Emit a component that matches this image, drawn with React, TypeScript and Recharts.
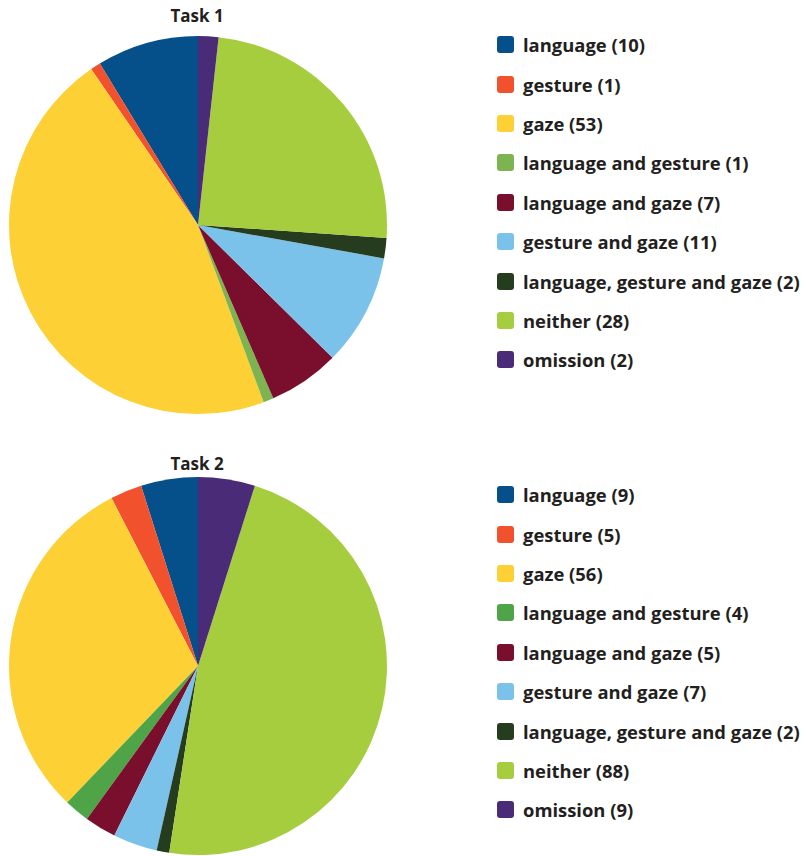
import React from 'react';
import { PieChart, Pie, Cell } from 'recharts';

const categories = [
  'language',
  'gesture',
  'gaze',
  'language and gesture',
  'language and gaze',
  'gesture and gaze',
  'language, gesture and gaze',
  'neither',
  'omission',
];

const task1Values = [10, 1, 53, 1, 7, 11, 2, 28, 2];
const task2Values = [9, 5, 56, 4, 5, 7, 2, 88, 9];

const task1Colors = ['#054f8a', '#f1522d', '#fdd136', '#7db44f', '#7a0e2d', '#7bc2ea', '#253c1e', '#a6cd3d', '#4a2b77'];
const task2Colors = ['#054f8a', '#f1522d', '#fdd136', '#4fa447', '#7a0e2d', '#7bc2ea', '#253c1e', '#a6cd3d', '#4a2b77'];

const FONT = '"Open Sans", "Noto Sans", sans-serif';

type Row = { name: string; value: number };

const toRows = (values: number[]): Row[] => categories.map((name, i) => ({ name, value: values[i] }));

const LegendBlock: React.FC<{ rows: Row[]; colors: string[]; top: number }> = ({ rows, colors, top }) => (
  <div style={{ position: 'absolute', left: 497, top }}>
    {rows.map((r, i) => (
      <div key={r.name} style={{ display: 'flex', alignItems: 'center', height: 39.4 }}>
        <span
          style={{
            width: 17,
            height: 17,
            borderRadius: 3,
            background: colors[i],
            display: 'inline-block',
            marginRight: 9,
            flexShrink: 0,
          }}
        />
        <span style={{ fontFamily: FONT, fontWeight: 700, fontSize: 18.4, color: '#231f20', whiteSpace: 'nowrap' }}>
          {r.name} ({r.value})
        </span>
      </div>
    ))}
  </div>
);

const TaskPie: React.FC<{
  title: string;
  values: number[];
  colors: string[];
  top: number;
  titleTop: number;
  legendTop: number;
}> = ({ title, values, colors, top, titleTop, legendTop }) => {
  const rows = toRows(values);
  return (
    <div style={{ position: 'absolute', left: 0, top, width: 807, height: 430 }}>
      <div
        style={{
          position: 'absolute',
          left: 147,
          width: 100,
          top: titleTop,
          textAlign: 'center',
          fontFamily: FONT,
          fontWeight: 700,
          fontSize: 17,
          color: '#231f20',
        }}
      >
        {title}
      </div>
      <PieChart
        width={400}
        height={430}
        margin={{ top: 0, right: 0, bottom: 0, left: 0 }}
        style={{ position: 'absolute', left: 0, top: 0 }}
      >
        <Pie
          data={rows}
          dataKey="value"
          nameKey="name"
          cx={198}
          cy={225}
          outerRadius={189}
          startAngle={90}
          endAngle={450}
          stroke="none"
          isAnimationActive={false}
        >
          {rows.map((r, i) => (
            <Cell key={r.name} fill={colors[i]} />
          ))}
        </Pie>
      </PieChart>
      <LegendBlock rows={rows} colors={colors} top={legendTop} />
    </div>
  );
};

export default function App() {
  return (
    <div style={{ position: 'fixed', left: 0, top: 0, width: 807, height: 856, background: '#fff', overflow: 'hidden' }}>
      <TaskPie title="Task 1" values={task1Values} colors={task1Colors} top={0} titleTop={4} legendTop={25} />
      <TaskPie title="Task 2" values={task2Values} colors={task2Colors} top={441} titleTop={11} legendTop={34} />
    </div>
  );
}
